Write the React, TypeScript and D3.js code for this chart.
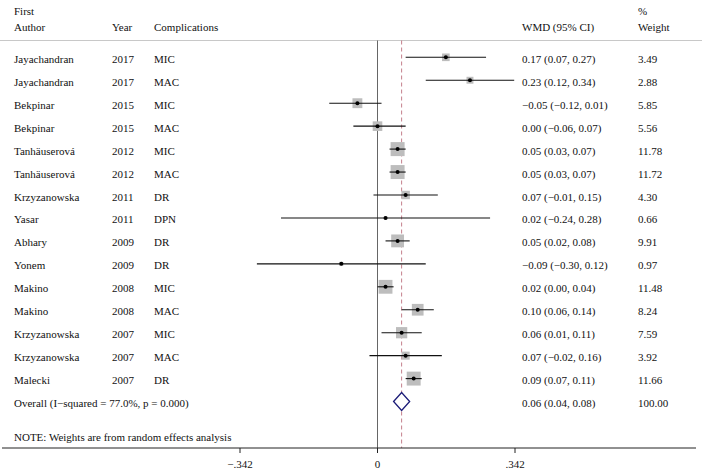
import React from "react";
import * as d3 from "d3";

const authors = ["Jayachandran", "Jayachandran", "Bekpinar", "Bekpinar", "Tanhäuserová", "Tanhäuserová", "Krzyzanowska", "Yasar", "Abhary", "Yonem", "Makino", "Makino", "Krzyzanowska", "Krzyzanowska", "Malecki"];
const years = ["2017", "2017", "2015", "2015", "2012", "2012", "2011", "2011", "2009", "2009", "2008", "2008", "2007", "2007", "2007"];
const complications = ["MIC", "MAC", "MIC", "MAC", "MIC", "MAC", "DR", "DPN", "DR", "DR", "MIC", "MAC", "MIC", "MAC", "DR"];
const wmd = [0.17, 0.23, -0.05, 0.0, 0.05, 0.05, 0.07, 0.02, 0.05, -0.09, 0.02, 0.1, 0.06, 0.07, 0.09];
const lower = [0.07, 0.12, -0.12, -0.06, 0.03, 0.03, -0.01, -0.24, 0.02, -0.3, 0.0, 0.06, 0.01, -0.02, 0.07];
const upper = [0.27, 0.34, 0.01, 0.07, 0.07, 0.07, 0.15, 0.28, 0.08, 0.12, 0.04, 0.14, 0.11, 0.16, 0.11];
const weights = [3.49, 2.88, 5.85, 5.56, 11.78, 11.72, 4.3, 0.66, 9.91, 0.97, 11.48, 8.24, 7.59, 3.92, 11.66];
const overall = { est: 0.06, lo: 0.04, hi: 0.08, weight: 100.0, label: "Overall (I−squared = 77.0%, p = 0.000)" };
const tickValues = [-0.342, 0, 0.342];
const tickLabels = ["−.342", "0", ".342"];

const fmt = (v: number) => {
  const s = Math.abs(v).toFixed(2);
  return (v < 0 ? "−" : "") + s;
};

export default function App() {
  const W = 702, H = 475;
  const x = d3.scaleLinear().domain([-0.342, 0.342]).range([240, 515]);
  const rows = d3.range(authors.length + 1);
  const y = d3.scalePoint<number>().domain(rows).range([57.3, 57.3 + 15 * 22.95]);
  const side = d3.scaleSqrt().domain([0, d3.max(weights) as number]).range([0, 14]);
  const topY = 40.5;
  const axisY = 448;
  const font = "'Liberation Serif', 'Times New Roman', serif";
  const fs = 11;
  const colX = { author: 14, year: 112, comp: 154, wmd: 522, weight: 638 };
  const oy = y(15) as number;
  const diamond = `M${x(overall.lo)},${oy} L${x(overall.est)},${oy - 9} L${x(overall.hi)},${oy} L${x(overall.est)},${oy + 9} Z`;
  const tc = "#111";

  return (
    <svg width={W} height={H} style={{ position: "fixed", left: 0, top: 0, background: "#fff" }} fontFamily={font} fontSize={fs}>
      <rect x={0} y={0} width={W} height={H} fill="#fff" />
      <g fill={tc}>
        <text x={colX.author} y={14.5}>First</text>
        <text x={colX.author} y={31}>Author</text>
        <text x={colX.year} y={31}>Year</text>
        <text x={colX.comp} y={31}>Complications</text>
        <text x={colX.wmd} y={31}>WMD (95% CI)</text>
        <text x={colX.weight} y={14.5}>%</text>
        <text x={colX.weight} y={31}>Weight</text>
      </g>
      <line x1={0} x2={W} y1={topY} y2={topY} stroke="#c8c8c8" strokeWidth={1} />
      <line x1={x(0)} x2={x(0)} y1={topY} y2={axisY} stroke="#666" strokeWidth={1} />
      <line x1={x(overall.est)} x2={x(overall.est)} y1={topY} y2={axisY} stroke="#c47f8c" strokeWidth={1} strokeDasharray="4,3" />
      {authors.map((a, i) => {
        const yy = y(i) as number;
        const s = side(weights[i]);
        return (
          <g key={i}>
            <rect x={x(wmd[i]) - s / 2} y={yy - s / 2} width={s} height={s} fill="#bdbdbd" />
            <line x1={x(lower[i])} x2={x(upper[i])} y1={yy} y2={yy} stroke="#111" strokeWidth={1.1} />
            <circle cx={x(wmd[i])} cy={yy} r={2} fill="#000" />
            <g fill={tc}>
              <text x={colX.author} y={yy + 5.5}>{a}</text>
              <text x={colX.year} y={yy + 5.5}>{years[i]}</text>
              <text x={colX.comp} y={yy + 5.5}>{complications[i]}</text>
              <text x={colX.wmd} y={yy + 5.5}>{`${fmt(wmd[i])} (${fmt(lower[i])}, ${fmt(upper[i])})`}</text>
              <text x={colX.weight} y={yy + 5.5}>{weights[i].toFixed(2)}</text>
            </g>
          </g>
        );
      })}
      <path d={diamond} fill="#fff" stroke="#1c1c78" strokeWidth={1.3} />
      <g fill={tc}>
        <text x={colX.author} y={oy + 5.5}>{overall.label}</text>
        <text x={colX.wmd} y={oy + 5.5}>{`${fmt(overall.est)} (${fmt(overall.lo)}, ${fmt(overall.hi)})`}</text>
        <text x={colX.weight} y={oy + 5.5}>{overall.weight.toFixed(2)}</text>
        <text x={colX.author} y={441}>NOTE: Weights are from random effects analysis</text>
      </g>
      <line x1={2} x2={696} y1={axisY} y2={axisY} stroke="#222" strokeWidth={1} />
      {tickValues.map((t, i) => (
        <g key={i}>
          <line x1={x(t)} x2={x(t)} y1={axisY} y2={axisY + 5} stroke="#222" />
          <text x={x(t)} y={axisY + 20} textAnchor="middle" fill={tc}>{tickLabels[i]}</text>
        </g>
      ))}
    </svg>
  );
}
